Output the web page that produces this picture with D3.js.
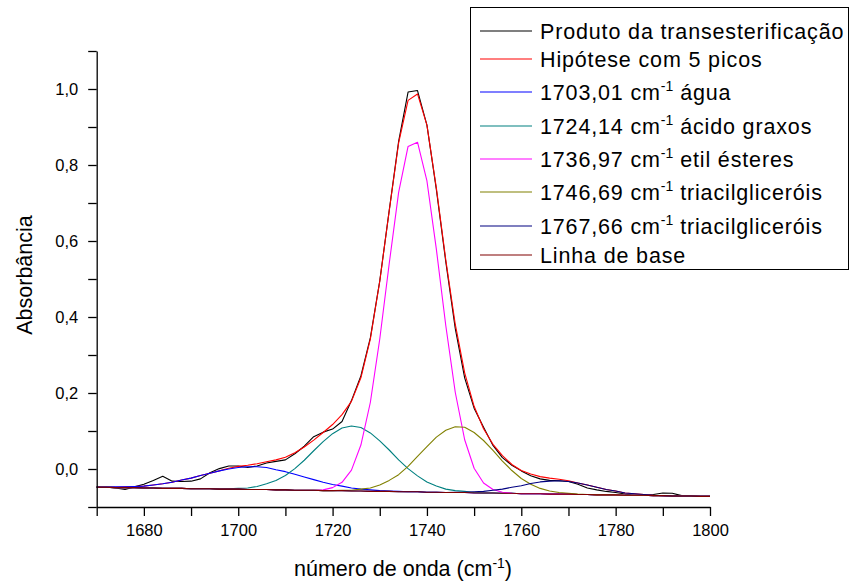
<!DOCTYPE html>
<html>
<head>
<meta charset="utf-8">
<script src="https://cdn.jsdelivr.net/npm/d3@7"></script>
<style>
  body { margin: 0; background: #fff; }
  text { font-family: "Liberation Sans", Arial, sans-serif; fill: #000; }
</style>
</head>
<body>
<div id="chart"></div>
<script>
// wavenumber grid (cm-1)
const wavenumber = [
  1670,1672,1674,1676,1678,1680,1682,1684,1686,1688,
  1690,1692,1694,1696,1698,1700,1702,1704,1706,1708,
  1710,1712,1714,1716,1718,1720,1722,1724,1726,1728,
  1730,1732,1734,1736,1738,1740,1742,1744,1746,1748,
  1750,1752,1754,1756,1758,1760,1762,1764,1766,1768,
  1770,1772,1774,1776,1778,1780,1782,1784,1786,1788,
  1790,1792,1794,1796,1798,1800
];

// Produto da transesterificação (measured spectrum)
const produto = [
  -0.046,-0.048,-0.050,-0.054,-0.047,-0.040,-0.030,-0.019,-0.032,-0.033,
  -0.032,-0.026,-0.010,0.001,0.008,0.008,0.004,0.008,0.016,0.020,
  0.024,0.040,0.060,0.085,0.097,0.105,0.125,0.180,0.245,0.345,
  0.495,0.680,0.862,0.992,0.996,0.905,0.735,0.545,0.370,0.240,
  0.160,0.110,0.062,0.030,0.010,-0.005,-0.018,-0.026,-0.030,-0.031,
  -0.033,-0.040,-0.050,-0.055,-0.059,-0.062,-0.066,-0.069,-0.069,-0.067,
  -0.063,-0.064,-0.070,-0.071,-0.072,-0.072
];

// Hipótese com 5 picos (fit)
const hipotese = [
  -0.048,-0.047,-0.048,-0.047,-0.046,-0.045,-0.042,-0.039,-0.035,-0.029,
  -0.024,-0.017,-0.011,-0.005,0.002,0.007,0.010,0.014,0.019,0.024,
  0.031,0.043,0.058,0.076,0.096,0.117,0.143,0.178,0.240,0.342,
  0.494,0.679,0.858,0.970,0.987,0.905,0.739,0.550,0.381,0.253,
  0.165,0.106,0.065,0.035,0.012,-0.004,-0.013,-0.020,-0.024,-0.027,
  -0.031,-0.037,-0.042,-0.048,-0.054,-0.058,-0.063,-0.065,-0.067,-0.069,
  -0.070,-0.071,-0.071,-0.071,-0.072,-0.072
];

// 1703,01 cm-1 água
const pico1703 = [
  -0.048,-0.047,-0.047,-0.047,-0.046,-0.045,-0.042,-0.039,-0.035,-0.029,
  -0.024,-0.017,-0.011,-0.005,0.000,0.004,0.006,0.006,0.004,-0.002,
  -0.007,-0.014,-0.021,-0.028,-0.035,-0.041,-0.045,-0.050,-0.053,-0.055,
  -0.057,-0.058,-0.059,-0.060,-0.060,-0.061,-0.061,-0.062,-0.062,-0.062,
  -0.063,-0.063,-0.063,-0.064,-0.064,-0.065,-0.065,-0.065,-0.066,-0.066,
  -0.066,-0.067,-0.067,-0.068,-0.068,-0.068,-0.069,-0.069,-0.069,-0.070,
  -0.070,-0.071,-0.071,-0.071,-0.072,-0.072
];

// 1724,14 cm-1 ácido graxos
const pico1724 = [
  -0.048,-0.048,-0.049,-0.049,-0.049,-0.050,-0.050,-0.051,-0.051,-0.051,
  -0.052,-0.052,-0.052,-0.053,-0.052,-0.051,-0.050,-0.046,-0.039,-0.030,
  -0.017,0.001,0.023,0.048,0.072,0.093,0.108,0.113,0.109,0.095,
  0.074,0.050,0.024,0.001,-0.018,-0.034,-0.045,-0.053,-0.057,-0.059,
  -0.062,-0.063,-0.063,-0.064,-0.064,-0.065,-0.065,-0.065,-0.066,-0.066,
  -0.066,-0.067,-0.067,-0.068,-0.068,-0.068,-0.069,-0.069,-0.069,-0.070,
  -0.070,-0.071,-0.071,-0.071,-0.072,-0.072
];

// 1736,97 cm-1 etil ésteres
const pico1737 = [
  -0.048,-0.048,-0.049,-0.049,-0.049,-0.050,-0.050,-0.051,-0.051,-0.051,
  -0.052,-0.052,-0.052,-0.053,-0.053,-0.053,-0.054,-0.054,-0.054,-0.055,
  -0.055,-0.056,-0.056,-0.056,-0.055,-0.049,-0.035,-0.003,0.063,0.175,
  0.342,0.540,0.728,0.849,0.860,0.758,0.578,0.377,0.202,0.077,
  0.002,-0.037,-0.054,-0.061,-0.064,-0.065,-0.065,-0.065,-0.066,-0.066,
  -0.066,-0.067,-0.067,-0.068,-0.068,-0.068,-0.069,-0.069,-0.069,-0.070,
  -0.070,-0.071,-0.071,-0.071,-0.072,-0.072
];

// 1746,69 cm-1 triacilgliceróis
const pico1747 = [
  -0.048,-0.048,-0.049,-0.049,-0.049,-0.050,-0.050,-0.051,-0.051,-0.051,
  -0.052,-0.052,-0.052,-0.053,-0.053,-0.053,-0.054,-0.054,-0.054,-0.055,
  -0.055,-0.056,-0.056,-0.056,-0.057,-0.057,-0.056,-0.056,-0.053,-0.050,
  -0.042,-0.030,-0.015,0.007,0.033,0.059,0.084,0.102,0.111,0.110,
  0.096,0.075,0.049,0.021,-0.004,-0.025,-0.040,-0.051,-0.058,-0.062,
  -0.064,-0.066,-0.067,-0.068,-0.068,-0.068,-0.069,-0.069,-0.069,-0.070,
  -0.070,-0.071,-0.071,-0.071,-0.072,-0.072
];

// 1767,66 cm-1 triacilgliceróis
const pico1768 = [
  -0.048,-0.048,-0.049,-0.049,-0.049,-0.050,-0.050,-0.051,-0.051,-0.051,
  -0.052,-0.052,-0.052,-0.053,-0.053,-0.053,-0.054,-0.054,-0.054,-0.055,
  -0.055,-0.056,-0.056,-0.056,-0.057,-0.057,-0.057,-0.058,-0.058,-0.059,
  -0.059,-0.059,-0.060,-0.060,-0.060,-0.061,-0.061,-0.062,-0.061,-0.061,
  -0.060,-0.059,-0.056,-0.053,-0.048,-0.044,-0.038,-0.034,-0.032,-0.031,
  -0.033,-0.037,-0.042,-0.048,-0.054,-0.058,-0.063,-0.065,-0.067,-0.069,
  -0.070,-0.071,-0.071,-0.071,-0.072,-0.072
];

// Linha de base
const linhaBase = [
  -0.048,-0.048,-0.049,-0.049,-0.049,-0.050,-0.050,-0.051,-0.051,-0.051,
  -0.052,-0.052,-0.052,-0.053,-0.053,-0.053,-0.054,-0.054,-0.054,-0.055,
  -0.055,-0.056,-0.056,-0.056,-0.057,-0.057,-0.057,-0.058,-0.058,-0.059,
  -0.059,-0.059,-0.060,-0.060,-0.060,-0.061,-0.061,-0.062,-0.062,-0.062,
  -0.063,-0.063,-0.063,-0.064,-0.064,-0.065,-0.065,-0.065,-0.066,-0.066,
  -0.066,-0.067,-0.067,-0.068,-0.068,-0.068,-0.069,-0.069,-0.069,-0.070,
  -0.070,-0.071,-0.071,-0.071,-0.072,-0.072
];

// legend labels: [text before superscript, superscript, text after]
const seriesNames = [
  ["Produto da transesterificação", "", ""],
  ["Hipótese com 5 picos", "", ""],
  ["1703,01 cm", "-1", " água"],
  ["1724,14 cm", "-1", " ácido graxos"],
  ["1736,97 cm", "-1", " etil ésteres"],
  ["1746,69 cm", "-1", " triacilgliceróis"],
  ["1767,66 cm", "-1", " triacilgliceróis"],
  ["Linha de base", "", ""]
];
const seriesColors = ["#000000", "#ff0000", "#0000ff", "#008080", "#ff00ff", "#808000", "#000080", "#800000"];
const seriesValues = [produto, hipotese, pico1703, pico1724, pico1737, pico1747, pico1768, linhaBase];

// axis ticks
const xTicks = [1670,1680,1690,1700,1710,1720,1730,1740,1750,1760,1770,1780,1790,1800];
const xTickLabels = [1680,1700,1720,1740,1760,1780,1800];
const yTicks = [-0.1,0,0.1,0.2,0.3,0.4,0.5,0.6,0.7,0.8,0.9,1.0,1.1];
const yTickLabels = [0,0.2,0.4,0.6,0.8,1.0];

const width = 851;
const height = 582;

const svg = d3.select("#chart")
    .append("svg")
    .attr("width", width)
    .attr("height", height);

const x = d3.scaleLinear()
    .domain([1670, 1800])
    .range([96.7, 710]);

const y = d3.scaleLinear()
    .domain([-0.1, 1.1])
    .range([507, 51]);

// lines
const line = d3.line()
    .x(d => x(d[0]))
    .y(d => y(d[1]));

seriesValues.forEach((vals, i) => {
    svg.append("path")
        .datum(wavenumber.map((w, k) => [w, vals[k]]))
        .attr("fill", "none")
        .attr("stroke", seriesColors[i])
        .attr("stroke-width", 1.1)
        .attr("stroke-linejoin", "round")
        .attr("d", line);
});

// x axis
const xAxis = svg.append("g")
    .attr("transform", `translate(0,${y(-0.1)})`)
    .call(d3.axisBottom(x)
        .tickValues(xTicks)
        .tickSize(9)
        .tickSizeOuter(0)
        .tickPadding(8)
        .tickFormat(d => xTickLabels.includes(d) ? d : ""));

// y axis
const yAxis = svg.append("g")
    .attr("transform", `translate(${x(1670)},0)`)
    .call(d3.axisLeft(y)
        .tickValues(yTicks)
        .tickSize(8.5)
        .tickSizeOuter(0)
        .tickPadding(10)
        .tickFormat(d => yTickLabels.some(v => Math.abs(v - d) < 1e-9) ? d3.format(".1f")(d).replace(".", ",") : ""));

[xAxis, yAxis].forEach(g => {
    g.selectAll("path, line").attr("stroke", "#000").attr("stroke-width", 1.3);
    g.selectAll("text")
        .attr("fill", "#000")
        .style("font-size", "16.5px")
        .style("font-family", "'Liberation Sans', Arial, sans-serif");
});

// axis titles
const xTitle = svg.append("text")
    .attr("x", 403)
    .attr("y", 576)
    .attr("text-anchor", "middle")
    .style("font-size", "21.5px");
xTitle.append("tspan").text("número de onda (cm");
xTitle.append("tspan").attr("dy", -8).style("font-size", "14px").text("-1");
xTitle.append("tspan").attr("dy", 8).text(")");

svg.append("text")
    .attr("transform", "translate(32,275) rotate(-90)")
    .attr("text-anchor", "middle")
    .style("font-size", "21.5px")
    .text("Absorbância");

// legend
const legend = svg.append("g");
legend.append("rect")
    .attr("x", 470.5)
    .attr("y", 7.5)
    .attr("width", 378)
    .attr("height", 262)
    .attr("fill", "#fff")
    .attr("stroke", "#000")
    .attr("stroke-width", 1);

const rowY = [31, 59, 92, 126, 159, 192, 226, 255];

seriesNames.forEach((name, i) => {
    legend.append("line")
        .attr("x1", 480)
        .attr("x2", 532)
        .attr("y1", rowY[i])
        .attr("y2", rowY[i])
        .attr("stroke", seriesColors[i])
        .attr("stroke-width", 1.1);
    const t = legend.append("text")
        .attr("x", 540)
        .attr("y", rowY[i] + 7.5)
        .style("font-size", "21.5px")
        .style("letter-spacing", "0.85px");
    t.append("tspan").text(name[0]);
    if (name[1]) {
        t.append("tspan").attr("dy", -9).style("font-size", "14px").style("letter-spacing", "0px").text(name[1]);
        t.append("tspan").attr("dy", 9).text(name[2]);
    }
});
</script>
</body>
</html>
